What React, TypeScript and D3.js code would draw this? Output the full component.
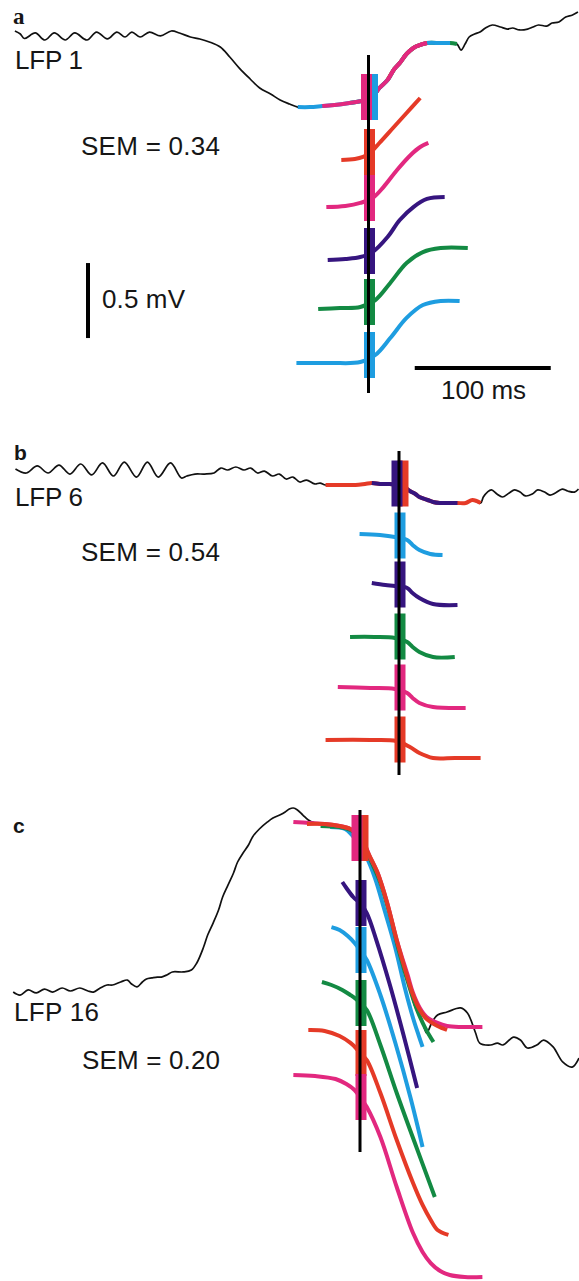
import React from 'react';
import * as d3 from 'd3';

type Pt = [number, number]; // [time from trigger (ms), potential (mV)]

const COLOR = {
  blue: '#1e9de0',
  pink: '#e2287f',
  red: '#e53a27',
  purple: '#36157f',
  green: '#138a43',
};

// ---------- panel a : LFP 1 ----------
const lfp1: Pt[] = [
  [-260, 0.46], [-256, 0.44], [-253, 0.41], [-245, 0.447], [-238, 0.4], [-231, 0.447], [-223, 0.4],
  [-216, 0.447], [-207, 0.4], [-200, 0.453], [-192, 0.407], [-185, 0.453], [-179, 0.42], [-174, 0.453],
  [-168, 0.42], [-161, 0.453], [-153, 0.427], [-145, 0.46], [-139, 0.447], [-131, 0.42], [-124, 0.407],
  [-117, 0.387], [-109, 0.353], [-102, 0.287], [-95, 0.213], [-87, 0.14], [-80, 0.08], [-72, 0.04],
  [-65, 0], [-58, -0.027], [-52, -0.047], [-43, -0.047], [-34, -0.04], [-25, -0.033], [-14, -0.02],
  [-5, -0.007], [0, 0], [3, 0.02], [8, 0.08], [14, 0.133], [19, 0.207], [23, 0.247], [28, 0.307],
  [33, 0.347], [38, 0.367], [43, 0.38], [53, 0.38], [60, 0.38], [65, 0.373], [68, 0.333], [71, 0.373],
  [74, 0.42], [78, 0.44], [82, 0.453], [86, 0.48], [91, 0.5], [97, 0.487], [102, 0.473], [106, 0.48],
  [111, 0.467], [117, 0.473], [121, 0.487], [125, 0.5], [131, 0.493], [135, 0.513], [140, 0.52],
  [145, 0.553], [150, 0.567], [154, 0.587],
];
const aRed: Pt[] = [[-20, -0.033], [-10, -0.027], [-4, -0.013], [1, 0.013], [8, 0.08], [18, 0.18], [28, 0.28], [38, 0.38]];
const aPink: Pt[] = [[-31, -0.04], [-17, -0.033], [-6, -0.013], [3, 0.02], [11, 0.093], [21, 0.207], [31, 0.307], [38, 0.36], [44, 0.387]];
const aPurple: Pt[] = [[-30, -0.04], [-17, -0.033], [-6, -0.02], [3, 0.013], [14, 0.113], [23, 0.227], [33, 0.313], [43, 0.367], [56, 0.38]];
const aGreen: Pt[] = [[-37, -0.027], [-21, -0.02], [-6, -0.013], [5, 0.033], [16, 0.147], [28, 0.28], [40, 0.353], [53, 0.38], [73, 0.38]];
const aBlue: Pt[] = [[-53, -0.033], [-28, -0.033], [-6, -0.027], [5, 0.02], [16, 0.133], [28, 0.267], [40, 0.353], [53, 0.38], [67, 0.38]];

// ---------- panel b : LFP 6 ----------
const lfp6: Pt[] = [
  [-282, 0.107], [-274, 0.08], [-266, 0.127], [-258, 0.08], [-250, 0.133], [-242, 0.073], [-234, 0.14],
  [-226, 0.067], [-218, 0.147], [-210, 0.06], [-202, 0.153], [-193, 0.053], [-185, 0.153], [-177, 0.053],
  [-168, 0.147], [-160, 0.047], [-156, 0.06], [-150, 0.073], [-143, 0.073], [-136, 0.08], [-131, 0.113],
  [-126, 0.1], [-120, 0.12], [-114, 0.1], [-109, 0.113], [-104, 0.08], [-99, 0.093], [-93, 0.06],
  [-88, 0.073], [-83, 0.04], [-78, 0.053], [-73, 0.02], [-68, 0.033], [-62, 0.007], [-58, 0.013],
  [-54, 0], [-43, 0], [-32, 0], [-25, 0.007], [-20, 0.013], [-14, 0.007], [-7, 0.007], [0, 0],
  [4, -0.013], [8, -0.04], [12, -0.06], [15, -0.08], [21, -0.1], [25, -0.113], [30, -0.12], [35, -0.12],
  [43, -0.12], [49, -0.12], [54, -0.1], [60, -0.12], [62, -0.08], [65, -0.047], [68, -0.033], [72, -0.06],
  [76, -0.08], [81, -0.053], [85, -0.033], [89, -0.047], [93, -0.073], [98, -0.06], [102, -0.033],
  [107, -0.047], [111, -0.067], [115, -0.053], [120, -0.027], [124, -0.04], [129, -0.047], [132, -0.027],
];
const bBlue: Pt[] = [[-29, 0.02], [-14, 0.013], [-3, 0], [6, -0.02], [10, -0.053], [15, -0.087], [23, -0.113], [32, -0.12]];
const bPurple: Pt[] = [[-20, 0.02], [-10, 0.007], [-3, 0], [6, -0.013], [10, -0.047], [15, -0.08], [25, -0.12], [43, -0.127]];
const bGreen: Pt[] = [[-36, 0.007], [-18, 0.007], [-3, 0], [6, -0.027], [10, -0.06], [15, -0.093], [25, -0.127], [41, -0.127]];
const bPink: Pt[] = [[-45, 0.013], [-21, 0.007], [-3, 0], [6, -0.027], [10, -0.06], [15, -0.093], [25, -0.12], [49, -0.127]];
const bRed: Pt[] = [[-54, 0.007], [-21, 0.007], [-2, 0], [8, -0.04], [15, -0.08], [25, -0.113], [41, -0.113], [60, -0.113]];

// ---------- panel c : LFP 16 ----------
const lfp16: Pt[] = [
  [-255, -1.027], [-250, -1.047], [-244, -1.013], [-238, -1.033], [-232, -1.007], [-226, -1.027],
  [-219, -1.0], [-213, -1.02], [-206, -1.0], [-200, -1.02], [-196, -1.027], [-191, -1.0], [-186, -0.98],
  [-182, -0.98], [-176, -0.96], [-171, -0.947], [-168, -0.973], [-164, -0.993], [-160, -0.96],
  [-157, -0.94], [-153, -0.933], [-149, -0.927], [-146, -0.927], [-142, -0.913], [-138, -0.893],
  [-130, -0.893], [-124, -0.88], [-120, -0.833], [-115, -0.727], [-112, -0.647], [-108, -0.567],
  [-104, -0.48], [-101, -0.393], [-97, -0.313], [-93, -0.233], [-90, -0.16], [-86, -0.1], [-82, -0.047],
  [-79, 0.007], [-74, 0.06], [-68, 0.107], [-64, 0.133], [-59, 0.153], [-55, 0.173], [-52, 0.193],
  [-49, 0.2], [-46, 0.187], [-42, 0.153], [-38, 0.12], [-33, 0.1], [-22, 0.087], [-11, 0.067],
  [-4, 0.04], [0, 0], [5, -0.087], [13, -0.247], [20, -0.447], [27, -0.693], [35, -0.947], [40, -1.113],
  [46, -1.227], [49, -1.3], [53, -1.227], [57, -1.18], [64, -1.16], [74, -1.133], [79, -1.167],
  [85, -1.3], [88, -1.367], [96, -1.38], [101, -1.367], [105, -1.38], [113, -1.327], [118, -1.347],
  [123, -1.4], [130, -1.38], [135, -1.347], [142, -1.393], [149, -1.493], [156, -1.527], [161, -1.467],
];
const cTopPink: Pt[] = [[-49, 0.107], [-37, 0.1], [-26, 0.093], [-15, 0.08], [-7, 0.06], [-3, 0.033], [0, 0], [4, -0.053], [7, -0.12], [13, -0.233], [20, -0.433], [27, -0.68], [35, -0.913], [39, -1.033], [44, -1.133], [49, -1.193], [57, -1.233], [64, -1.253], [74, -1.26], [90, -1.26]];
const cTopRed: Pt[] = [[-39, 0.093], [-26, 0.093], [-15, 0.08], [-7, 0.06], [-2, 0.033], [2, -0.013], [5, -0.08], [13, -0.233], [20, -0.433], [27, -0.68], [35, -0.933], [39, -1.047], [44, -1.147], [49, -1.207], [57, -1.253], [64, -1.28]];
const cTopGreen: Pt[] = [[-29, 0.08], [-15, 0.073], [-7, 0.053], [-2, 0.02], [2, -0.033], [7, -0.133], [15, -0.3], [22, -0.513], [29, -0.767], [37, -1.013], [42, -1.147], [48, -1.267], [54, -1.36]];
const cTopBlue: Pt[] = [[-22, 0.073], [-11, 0.06], [-6, 0.02], [-2, -0.027], [4, -0.113], [11, -0.267], [18, -0.48], [26, -0.733], [33, -1.0], [39, -1.2], [43, -1.313], [46, -1.393]];
const cPurple: Pt[] = [[-13, 0.14], [-10, 0.1], [-5, 0.04], [0, 0], [5, -0.067], [12, -0.247], [22, -0.547], [32, -0.88], [42, -1.233]];
const cBlue: Pt[] = [[-21, 0.153], [-15, 0.133], [-9, 0.093], [-4, 0.047], [0, 0], [5, -0.067], [15, -0.3], [26, -0.62], [37, -0.98], [46, -1.313]];
const cGreen: Pt[] = [[-28, 0.14], [-21, 0.12], [-13, 0.087], [-7, 0.053], [-3, 0.027], [0, 0], [5, -0.047], [15, -0.28], [27, -0.6], [39, -0.9], [55, -1.293]];
const cRed: Pt[] = [[-38, 0.153], [-26, 0.147], [-15, 0.113], [-7, 0.067], [-3, 0.033], [0, 0], [5, -0.047], [15, -0.267], [27, -0.58], [39, -0.867], [46, -1.013], [52, -1.113], [57, -1.18], [65, -1.213]];
const cPink: Pt[] = [[-49, 0.147], [-33, 0.14], [-18, 0.12], [-10, 0.087], [-4, 0.047], [0, 0], [5, -0.067], [15, -0.267], [27, -0.6], [39, -0.907], [46, -1.033], [52, -1.107], [59, -1.16], [66, -1.187], [77, -1.2], [90, -1.2]];

// labels
const panelLetters = ['a', 'b', 'c'];
const lfpLabels = ['LFP 1', 'LFP 6', 'LFP 16'];
const semLabels = ['SEM = 0.34', 'SEM = 0.54', 'SEM = 0.20'];
const scaleTimeMs = 100;
const scaleVoltMv = 0.5;

const slice = (pts: Pt[], from: number, to: number) => pts.filter((p) => p[0] >= from && p[0] <= to);

type Trace = { color: string; pts: Pt[] };
type Marker = { color: string; dx: number };
type Row = { color: string; pts: Pt[]; y: number };

interface Panel {
  trigX: number;
  topY: number;
  lineTop: number;
  lineBottom: number;
  lfp: Pt[];
  top: Trace[];
  topMarkers: Marker[];
  rows: Row[];
  markerShift: number;
  letter: { x: number; y: number; serif: boolean };
  lfpText: { x: number; y: number; len: number };
  semText: { x: number; y: number; len: number };
}

const panels: Panel[] = [
  {
    trigX: 368.5, topY: 100, lineTop: 55, lineBottom: 393, lfp: lfp1,
    top: [
      { color: COLOR.green, pts: slice(lfp1, -14, 65) },
      { color: COLOR.blue, pts: slice(lfp1, -52, 60) },
      { color: COLOR.red, pts: slice(lfp1, 14, 43) },
      { color: COLOR.pink, pts: slice(lfp1, -34, 43) },
    ],
    topMarkers: [{ color: COLOR.blue, dx: 4 }, { color: COLOR.pink, dx: -2 }],
    rows: [
      { color: COLOR.red, pts: aRed, y: 155 },
      { color: COLOR.pink, pts: aPink, y: 201 },
      { color: COLOR.purple, pts: aPurple, y: 254 },
      { color: COLOR.green, pts: aGreen, y: 305 },
      { color: COLOR.blue, pts: aBlue, y: 358 },
    ],
    markerShift: -3,
    letter: { x: 13, y: 24, serif: true },
    lfpText: { x: 15, y: 69, len: 68 },
    semText: { x: 81, y: 155, len: 139 },
  },
  {
    trigX: 399, topY: 485, lineTop: 451, lineBottom: 775, lfp: lfp6,
    top: [
      { color: COLOR.red, pts: slice(lfp6, -54, 60) },
      { color: COLOR.purple, pts: slice(lfp6, -20, 43) },
    ],
    topMarkers: [{ color: COLOR.red, dx: 4 }, { color: COLOR.purple, dx: -2 }],
    rows: [
      { color: COLOR.blue, pts: bBlue, y: 537 },
      { color: COLOR.purple, pts: bPurple, y: 586 },
      { color: COLOR.green, pts: bGreen, y: 638 },
      { color: COLOR.pink, pts: bPink, y: 689 },
      { color: COLOR.red, pts: bRed, y: 741 },
    ],
    markerShift: -1.5,
    letter: { x: 14, y: 460, serif: false },
    lfpText: { x: 15, y: 506, len: 68 },
    semText: { x: 81, y: 561, len: 139 },
  },
  {
    trigX: 360, topY: 838, lineTop: 810, lineBottom: 1152, lfp: lfp16,
    top: [
      { color: COLOR.blue, pts: cTopBlue },
      { color: COLOR.green, pts: cTopGreen },
      { color: COLOR.pink, pts: cTopPink },
      { color: COLOR.red, pts: cTopRed },
    ],
    topMarkers: [{ color: COLOR.red, dx: 3 }, { color: COLOR.pink, dx: -3 }],
    rows: [
      { color: COLOR.purple, pts: cPurple, y: 903 },
      { color: COLOR.blue, pts: cBlue, y: 950 },
      { color: COLOR.green, pts: cGreen, y: 1003 },
      { color: COLOR.red, pts: cRed, y: 1053 },
      { color: COLOR.pink, pts: cPink, y: 1097 },
    ],
    markerShift: 0,
    letter: { x: 13, y: 833, serif: false },
    lfpText: { x: 14, y: 1021, len: 85 },
    semText: { x: 82, y: 1069, len: 138 },
  },
];

const MS_SPAN_PX = 136; // width of 100 ms
const MV_SPAN_PX = 75; // height of 0.5 mV
const MARKER_W = 11;
const MARKER_H = 46;
const SANS = "'Liberation Sans', Arial, Helvetica, sans-serif";
const TEXT_SIZE = 26;
const INK = '#161616';

function xScaleFor(trigX: number) {
  return d3.scaleLinear().domain([0, scaleTimeMs]).range([trigX, trigX + MS_SPAN_PX]);
}
function yScaleFor(zeroY: number) {
  return d3.scaleLinear().domain([0, scaleVoltMv]).range([zeroY, zeroY - MV_SPAN_PX]);
}
function pathFor(pts: Pt[], xs: d3.ScaleLinear<number, number>, ys: d3.ScaleLinear<number, number>) {
  return (
    d3
      .line<Pt>()
      .x((d) => xs(d[0]))
      .y((d) => ys(d[1]))
      .curve(d3.curveCatmullRom.alpha(0.5))(pts) || ''
  );
}

function Label({ x, y, len, children }: { x: number; y: number; len: number; children: React.ReactNode }) {
  return (
    <text x={x} y={y} fontFamily={SANS} fontSize={TEXT_SIZE} fill={INK} textLength={len} lengthAdjust="spacing">
      {children}
    </text>
  );
}

function PanelView({ p, idx }: { p: Panel; idx: number }) {
  const xs = xScaleFor(p.trigX);
  const yTop = yScaleFor(p.topY);
  const lw = 4;
  return (
    <g>
      <text
        x={p.letter.x}
        y={p.letter.y}
        fontFamily={p.letter.serif ? "'Liberation Serif', 'Times New Roman', serif" : SANS}
        fontWeight="bold"
        fontSize={p.letter.serif ? 23 : 21}
        fill={INK}
      >
        {panelLetters[idx]}
      </text>
      <Label x={p.lfpText.x} y={p.lfpText.y} len={p.lfpText.len}>{lfpLabels[idx]}</Label>
      <Label x={p.semText.x} y={p.semText.y} len={p.semText.len}>{semLabels[idx]}</Label>

      {/* raw LFP trace */}
      <path d={pathFor(p.lfp, xs, yTop)} fill="none" stroke="#111" strokeWidth={1.7} strokeLinejoin="round" />

      {/* condition averages overlaid on the LFP */}
      {p.top.map((t, i) => (
        <path key={'t' + i} d={pathFor(t.pts, xs, yTop)} fill="none" stroke={t.color} strokeWidth={lw} />
      ))}
      {p.topMarkers.map((m, i) => (
        <rect
          key={'tm' + i}
          x={p.trigX + m.dx - MARKER_W / 2}
          y={p.topY + p.markerShift - MARKER_H / 2}
          width={MARKER_W}
          height={MARKER_H}
          fill={m.color}
        />
      ))}

      {/* stacked condition averages */}
      {p.rows.map((r, i) => {
        const ys = yScaleFor(r.y);
        return (
          <g key={'r' + i}>
            <path d={pathFor(r.pts, xs, ys)} fill="none" stroke={r.color} strokeWidth={lw} />
            <rect
              x={p.trigX - MARKER_W / 2 + 1}
              y={r.y + p.markerShift - MARKER_H / 2}
              width={MARKER_W}
              height={MARKER_H}
              fill={r.color}
            />
          </g>
        );
      })}

      {/* trigger time */}
      <line x1={p.trigX} x2={p.trigX} y1={p.lineTop} y2={p.lineBottom} stroke="#000" strokeWidth={3} />
    </g>
  );
}

export default function App() {
  const xa = xScaleFor(panels[0].trigX);
  const ya = yScaleFor(panels[0].topY);
  const barT0 = 34;
  const barV0 = -1.587;
  return (
    <svg width={579} height={1281} style={{ position: 'absolute', left: 0, top: 0, background: '#fff' }}>
      <rect width={579} height={1281} fill="#fff" />
      {panels.map((p, i) => (
        <PanelView key={i} p={p} idx={i} />
      ))}
      {/* scale bars */}
      <line x1={88} x2={88} y1={ya(barV0)} y2={ya(barV0 + scaleVoltMv)} stroke="#000" strokeWidth={4} />
      <Label x={102} y={308} len={83}>{`${scaleVoltMv} mV`}</Label>
      <line x1={xa(barT0)} x2={xa(barT0 + scaleTimeMs)} y1={368} y2={368} stroke="#000" strokeWidth={4} />
      <Label x={441} y={399} len={85}>{`${scaleTimeMs} ms`}</Label>
    </svg>
  );
}
